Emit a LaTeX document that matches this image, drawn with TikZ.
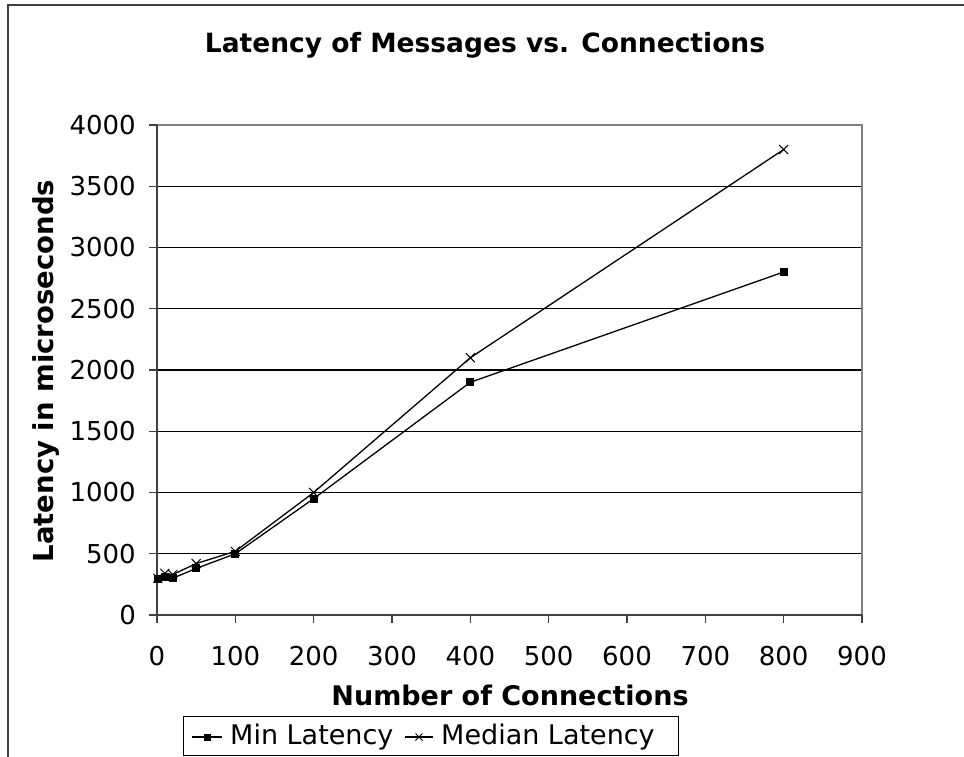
\documentclass[tikz,border=0pt]{standalone}
\usepackage{fontspec}
\setmainfont{DejaVu Sans}
\usetikzlibrary{shapes.misc}
\begin{document}
\begin{tikzpicture}[x=1pt,y=-1pt,
  gridline/.style={black, line width=1.2pt},
  plotframe/.style={gray, line width=1.5pt},
  axisline/.style={black!75, line width=1.3pt},
  series/.style={black, line width=1.3pt},
  sqmark/.style={rectangle, fill=black, draw=none, minimum size=8pt, inner sep=0pt},
  xmark/.style={cross out, draw=black, line width=1pt, minimum size=8pt, inner sep=0pt},
  ticklab/.style={font=\fontsize{26}{30}\selectfont, inner sep=0pt},
  titlelab/.style={font=\bfseries\fontsize{26.5}{30}\selectfont, inner sep=0pt},
  leglab/.style={font=\fontsize{27}{30}\selectfont, inner sep=0pt, anchor=base west},
]
\useasboundingbox (0,0) rectangle (964,757);
\fill[white] (0,0) rectangle (964,757);
% chart area border
\draw[black!75, line width=2pt] (8,760) -- (8,5) -- (967,5);

% title
\node[titlelab, anchor=base] (title) at (485,53) {Latency of Messages vs. Connections};

% plot area: 0..900 connections, 0..4000 microseconds
\begin{scope}[shift={(157,615)}, x=0.78333pt, y=0.1225pt]
  \foreach \v in {500,1000,...,3500}
    \draw[gridline] (0,\v) -- (900,\v);
  \draw[plotframe] (0,4000) -- (900,4000) -- (900,0);
  \draw[axisline] (0,4000) -- (0,0) -- (900,0);
  \foreach \v in {0,500,...,4000} {
    \draw[axisline] (0,\v) -- ++(-8pt,0pt);
    \node[ticklab, anchor=east, xshift=-21pt] (yl\v) at (0,\v) {\v};
  }
  \foreach \v in {0,100,...,900} {
    \draw[axisline] (\v,0) -- ++(0pt,-8pt);
    \node[ticklab, anchor=base, yshift=-50pt] (xl\v) at (\v,0) {\v};
  }

  % Min Latency
  \node[sqmark] (m1) at (1,290) {};
  \node[sqmark] (m2) at (10,310) {};
  \node[sqmark] (m3) at (20,300) {};
  \node[sqmark] (m4) at (50,380) {};
  \node[sqmark] (m5) at (100,500) {};
  \node[sqmark] (m6) at (200,950) {};
  \node[sqmark] (m7) at (400,1900) {};
  \node[sqmark] (m8) at (800,2800) {};
  \draw[series] (m1.center) -- (m2.center) -- (m3.center) -- (m4.center)
    -- (m5.center) -- (m6.center) -- (m7.center) -- (m8.center);

  % Median Latency
  \node[xmark] (d1) at (1,300) {};
  \node[xmark] (d2) at (10,340) {};
  \node[xmark] (d3) at (20,330) {};
  \node[xmark] (d4) at (50,420) {};
  \node[xmark] (d5) at (100,520) {};
  \node[xmark] (d6) at (200,1000) {};
  \node[xmark] (d7) at (400,2100) {};
  \node[xmark] (d8) at (800,3800) {};
  \draw[series] (d1.center) -- (d2.center) -- (d3.center) -- (d4.center)
    -- (d5.center) -- (d6.center) -- (d7.center) -- (d8.center);
\end{scope}

% axis titles
\node[titlelab, font=\bfseries\fontsize{27.5}{30}\selectfont, anchor=base, rotate=90] (ytitle) at (53,371) {Latency in microseconds};
\node[titlelab, font=\bfseries\fontsize{27}{30}\selectfont, anchor=base] (xtitle) at (510,705) {Number of Connections};

% legend
\draw[black, line width=1pt] (183,716) rectangle (678,755);
\coordinate (la) at (192,737);
\coordinate (lb) at (222,737);
\node[sqmark, minimum size=7pt] (lm) at (207,737) {};
\draw[series] (la) -- (lb);
\node[leglab] (lmin) at (230,744) {Min Latency};
\coordinate (lc) at (405,737);
\coordinate (ld) at (433,737);
\node[xmark, minimum size=6pt] (ld1) at (419,737) {};
\draw[series] (lc) -- (ld);
\node[leglab] (lmed) at (441,744) {Median Latency};
\end{tikzpicture}
\end{document}
